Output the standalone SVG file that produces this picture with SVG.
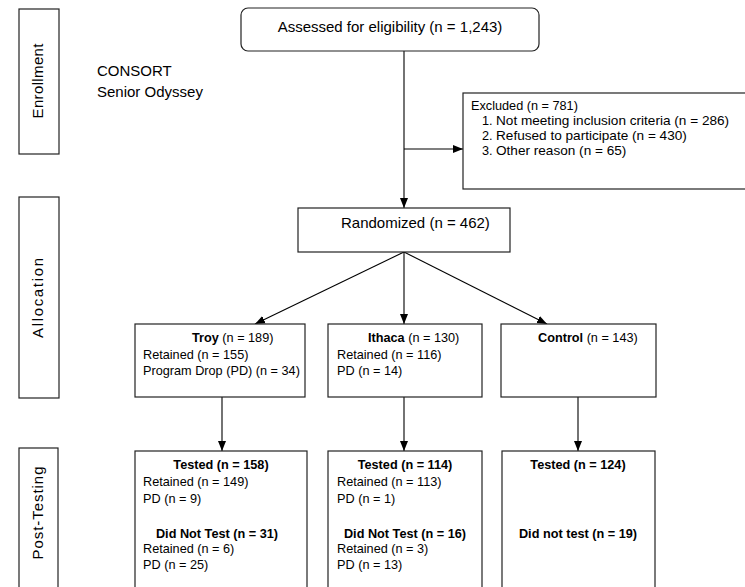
<svg xmlns="http://www.w3.org/2000/svg" width="745" height="587" viewBox="0 0 745 587">
<defs>
<style>
text{font-family:"Liberation Sans",Arial,sans-serif;fill:#000}
.box{fill:#fff;stroke:#222;stroke-width:1.2}
.conn{stroke:#000;stroke-width:1.1;fill:none}
.t15{font-size:15px}
.t13{font-size:12.7px}
.t14{font-size:13.6px}
.b{font-weight:bold}
.mid{text-anchor:middle}
</style>
<marker id="ah" markerUnits="userSpaceOnUse" markerWidth="10" markerHeight="10" viewBox="0 0 10 10" refX="10" refY="5" orient="auto">
<path d="M0,1 L10,5 L0,9 Z" fill="#000"/>
</marker>
</defs>
<rect width="745" height="587" fill="#fff"/>

<g id="stage-enrollment">
<rect class="box" x="19" y="9" width="40" height="145"/>
<text class="t15 mid" transform="translate(43,81) rotate(-90)" textLength="75" lengthAdjust="spacing">Enrollment</text>
</g>
<g id="stage-allocation">
<rect class="box" x="19" y="197" width="40" height="201"/>
<text class="t15 mid" transform="translate(43,298) rotate(-90)" textLength="80" lengthAdjust="spacing">Allocation</text>
</g>
<g id="stage-post">
<rect class="box" x="19" y="448" width="39" height="145"/>
<text class="t15 mid" transform="translate(43,513) rotate(-90)" textLength="93" lengthAdjust="spacing">Post-Testing</text>
</g>

<g id="title">
<text class="t15" x="97" y="76">CONSORT</text>
<text class="t15" x="97" y="97">Senior Odyssey</text>
</g>

<g id="connectors">
<line class="conn" x1="404" y1="51" x2="404" y2="208" marker-end="url(#ah)"/>
<line class="conn" x1="404" y1="149" x2="463" y2="149" marker-end="url(#ah)"/>
<line class="conn" x1="404" y1="252" x2="255" y2="324" marker-end="url(#ah)"/>
<line class="conn" x1="404" y1="252" x2="404" y2="324" marker-end="url(#ah)"/>
<line class="conn" x1="404" y1="252" x2="547" y2="324" marker-end="url(#ah)"/>
<line class="conn" x1="222" y1="397" x2="222" y2="451" marker-end="url(#ah)"/>
<line class="conn" x1="404" y1="397" x2="404" y2="451" marker-end="url(#ah)"/>
<line class="conn" x1="578" y1="397" x2="578" y2="451" marker-end="url(#ah)"/>
</g>

<g id="assessed">
<rect class="box" x="241" y="8" width="298" height="43" rx="7" ry="7"/>
<text class="t15 mid" x="390" y="32">Assessed for eligibility (n = 1,243)</text>
</g>

<g id="excluded">
<rect class="box" x="463" y="93" width="290" height="96"/>
<text class="t13" x="471" y="110">Excluded (n = 781)</text>
<text class="t13" x="482" y="125">1.</text><text class="t14" x="496" y="125">Not meeting inclusion criteria (n = 286)</text>
<text class="t13" x="482" y="140">2.</text><text class="t14" x="496" y="140">Refused to participate (n = 430)</text>
<text class="t13" x="482" y="155">3.</text><text class="t14" x="496" y="155">Other reason (n = 65)</text>
</g>

<g id="randomized">
<rect class="box" x="298" y="208" width="212" height="44"/>
<text class="t15" x="341" y="228">Randomized (n = 462)</text>
</g>

<g id="troy">
<rect class="box" x="135" y="324" width="170" height="73"/>
<text class="t13" x="192" y="342"><tspan class="b">Troy</tspan> (n = 189)</text>
<text class="t13" x="143" y="359">Retained (n = 155)</text>
<text class="t13" x="143" y="375">Program Drop (PD) (n = 34)</text>
</g>

<g id="ithaca">
<rect class="box" x="328" y="324" width="154" height="73"/>
<text class="t13" x="368" y="342"><tspan class="b">Ithaca</tspan> (n = 130)</text>
<text class="t13" x="337" y="359">Retained (n = 116)</text>
<text class="t13" x="337" y="375">PD (n = 14)</text>
</g>

<g id="control">
<rect class="box" x="501" y="324" width="155" height="73"/>
<text class="t13" x="538" y="342"><tspan class="b">Control</tspan> (n = 143)</text>
</g>

<g id="troy-post">
<rect class="box" x="135" y="451" width="172" height="145"/>
<text class="t13 b mid" x="221" y="469">Tested (n = 158)</text>
<text class="t13" x="143" y="486">Retained (n = 149)</text>
<text class="t13" x="143" y="503">PD (n = 9)</text>
<text class="t13 b mid" x="217" y="538">Did Not Test (n = 31)</text>
<text class="t13" x="143" y="553">Retained (n = 6)</text>
<text class="t13" x="143" y="569">PD (n = 25)</text>
</g>

<g id="ithaca-post">
<rect class="box" x="328" y="451" width="154" height="145"/>
<text class="t13 b mid" x="405" y="469">Tested (n = 114)</text>
<text class="t13" x="337" y="486">Retained (n = 113)</text>
<text class="t13" x="337" y="503">PD (n = 1)</text>
<text class="t13 b mid" x="405" y="538">Did Not Test (n = 16)</text>
<text class="t13" x="337" y="553">Retained (n = 3)</text>
<text class="t13" x="337" y="569">PD (n = 13)</text>
</g>

<g id="control-post">
<rect class="box" x="502" y="451" width="153" height="145"/>
<text class="t13 b mid" x="578" y="469">Tested (n = 124)</text>
<text class="t13 b mid" x="578" y="538">Did not test (n = 19)</text>
</g>
</svg>
